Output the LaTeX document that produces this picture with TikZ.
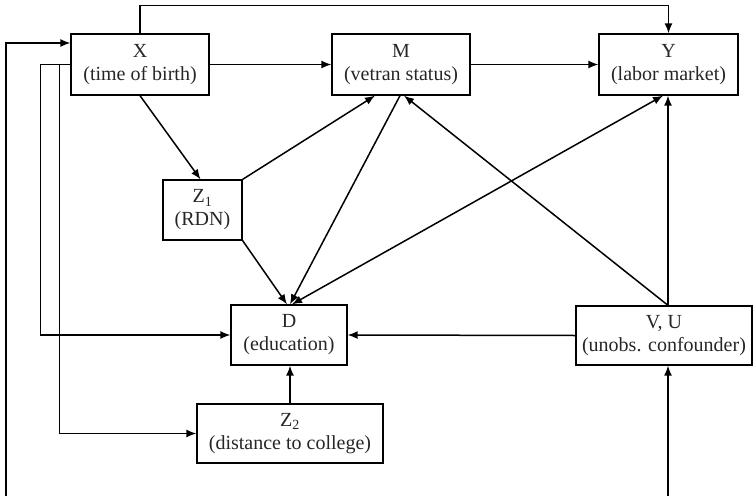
\documentclass[tikz,border=0pt]{standalone}
\usepackage{fontspec}
\setmainfont{Liberation Serif}
\usetikzlibrary{arrows.meta}
\begin{document}
\begin{tikzpicture}[x=1pt,y=-1pt,
  box/.style={draw, line width=1.3pt, rectangle, align=center, inner sep=0pt,
    font=\fontsize{20}{23}\selectfont, text=black!85},
  arr/.style={line width=1.5pt, -{Latex[length=10pt,width=8pt]}},
  barr/.style={line width=1.5pt, {Latex[length=10pt,width=8pt]}-{Latex[length=10pt,width=8pt]}}]
\useasboundingbox (0,0) rectangle (754,495);
\node[box, minimum width=138pt, minimum height=61pt] (X) at (140,64.5) {X\\(time of birth)};
\node[box, minimum width=138pt, minimum height=61pt] (M) at (401,64.5) {M\\(vetran status)};
\node[box, minimum width=139pt, minimum height=61pt] (Y) at (668.5,64.5) {Y\\(labor market)};
\node[box, minimum width=79pt, minimum height=60pt] (Z1) at (202.5,210) {Z\textsubscript{1}\\(RDN)};
\node[box, minimum width=116pt, minimum height=60pt] (D) at (289,335) {D\\(education)};
\node[box, minimum width=186pt, minimum height=59pt] (Z2) at (290,433.5) {Z\textsubscript{2}\\(distance to college)};
\node[box, minimum width=176pt, minimum height=59pt] (VU) at (664,335.5) {V, U\\(unobs. confounder)};
\coordinate (bl) at (6,497);
\coordinate (br) at (668,497);
% top loop X -> Y
\draw[arr] (X.north) -- ++(0,-28) -| (Y.north);
% left bottom loop
\draw[arr] (bl) |- ([yshift=21.5pt]X.west);
\draw[arr] (br) -- (br |- VU.south);
% X left branches
\draw[arr] (X.west) -- ++(-30,0) |- (D.west);
\draw[arr] ([xshift=-11pt]X.west) |- (Z2.west);
% horizontal
\draw[arr] (X.east) -- (M.west);
\draw[arr] (M.east) -- (Y.west);
% diagonals
\draw[arr] (X.south) -- ([xshift=-2pt]Z1.north);
\draw[arr] (Z1.north east) -- ([xshift=-26pt]M.south);
\draw[arr] (Z1.south east) -- ([xshift=-2pt]D.north);
\draw[arr] ([xshift=-1pt]M.south) -- ([xshift=1pt]D.north);
\draw[barr] ([xshift=3pt]D.north) -- ([xshift=-5.5pt]Y.south);
\draw[arr] (br |- VU.north) -- ([xshift=3pt]M.south);
\draw[arr] (br |- VU.north) -- (br |- Y.south);
\draw[arr] (VU.west) -- (D.east);
\draw[arr] (Z2.north) -- (Z2.north |- D.south);
\end{tikzpicture}
\end{document}
